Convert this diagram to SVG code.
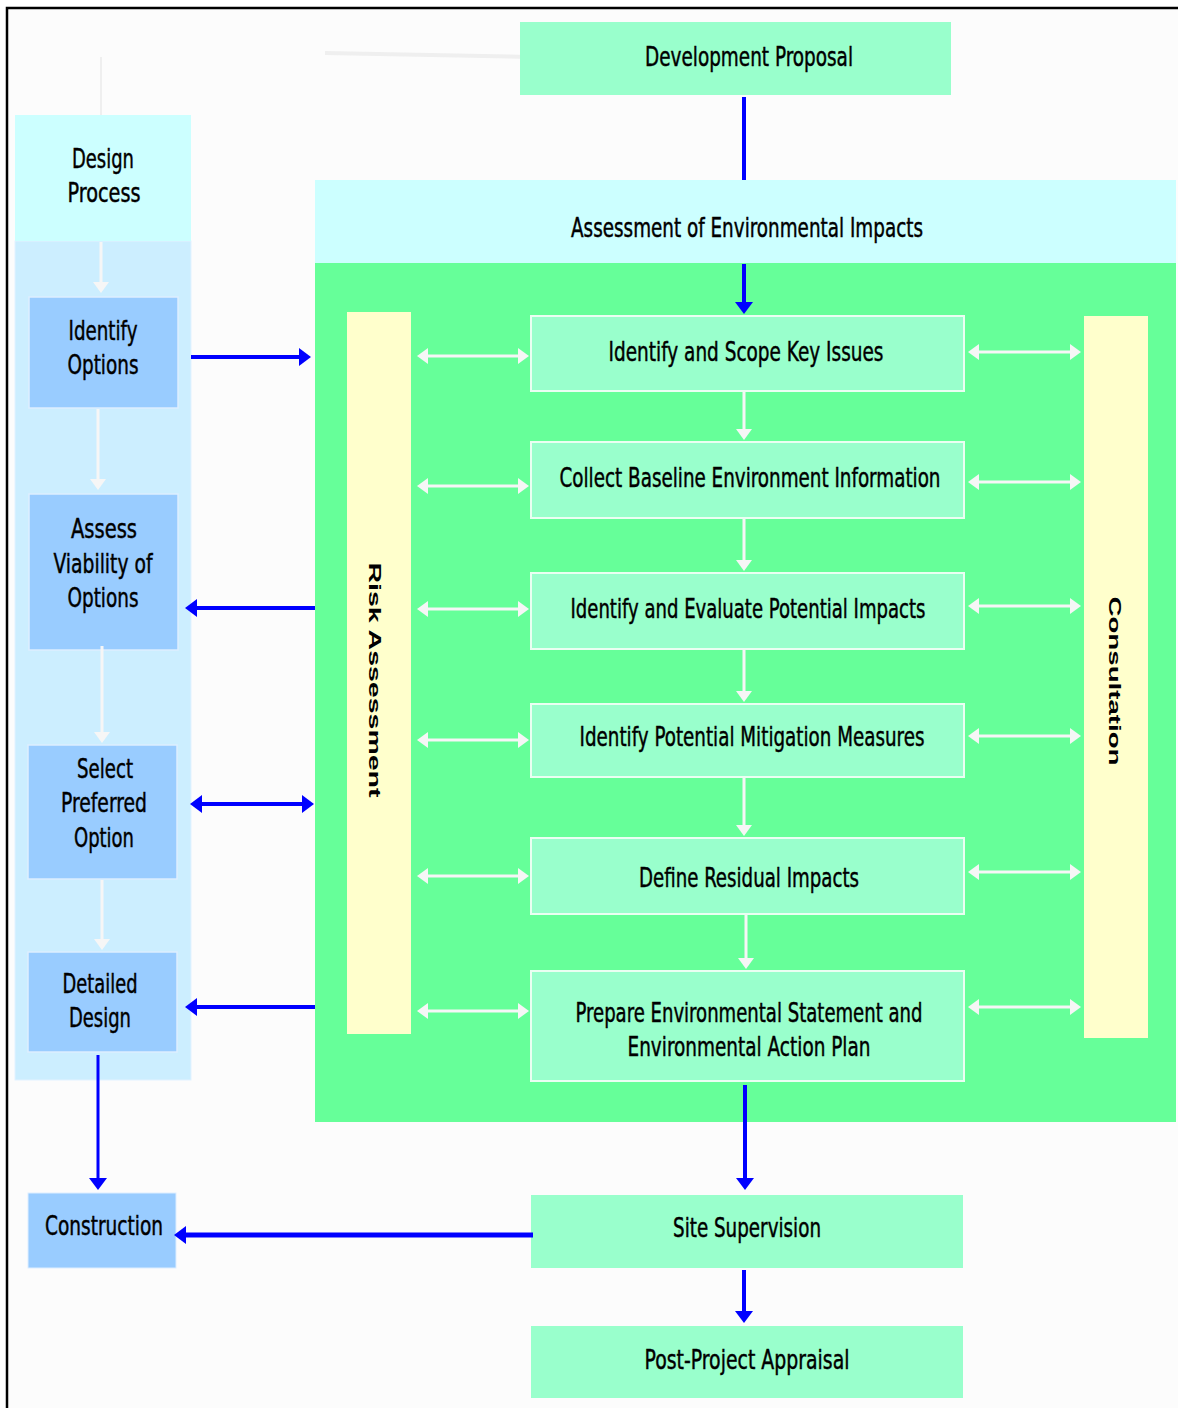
<svg xmlns="http://www.w3.org/2000/svg" width="1178" height="1408" viewBox="0 0 1178 1408">
<style>
.t{font-family:"Liberation Sans Narrow","DejaVu Sans Condensed","Arial Narrow",sans-serif;font-size:27px;fill:#000;text-anchor:middle;stroke:#000;stroke-width:0.45px}
.v{font-family:"Liberation Sans","Arial",sans-serif;font-weight:bold;font-size:17px;fill:#000;text-anchor:middle}
.g{fill:#99ffcc}
.gb{fill:#99ffcc;stroke:#eafff2;stroke-width:2}
.b{fill:#99ccff;stroke:#ddeeff;stroke-width:1.5}
.y{fill:#ffffcc}
.bl{stroke:#0000ff;stroke-width:4;fill:none}
.wl{stroke:#f6f6f6;stroke-width:3;fill:none}
</style>
<defs>
<marker id="bh" viewBox="0 0 12 18" refX="0" refY="9" markerWidth="12" markerHeight="18" orient="auto-start-reverse" markerUnits="userSpaceOnUse"><path d="M0,0 L12,9 L0,18 z" fill="#0000ff"/></marker>
<marker id="wh" viewBox="0 0 11 16" refX="0" refY="8" markerWidth="11" markerHeight="16" orient="auto-start-reverse" markerUnits="userSpaceOnUse"><path d="M0,0 L11,8 L0,16 z" fill="#f6f6f6"/></marker>
</defs>
<rect x="0" y="0" width="1178" height="1408" fill="#ffffff"/>
<rect x="7" y="8" width="1171" height="1400" fill="#fcfcfc"/>
<path d="M7,1408 V8 H1178" fill="none" stroke="#000" stroke-width="2.5"/>
<path d="M325,53 L532,57" stroke="#efefef" stroke-width="4" fill="none"/>
<path d="M101,57 V115" stroke="#efefef" stroke-width="2" fill="none"/>

<g id="design-column">
<rect x="15" y="241" width="176" height="839" fill="#cceeff" stroke="#e2f2ff" stroke-width="1"/>
</g>
<g id="design-process">
<rect x="15" y="115" width="176" height="126" fill="#ccffff"/>
<text class="t" x="103" y="168" textLength="62" lengthAdjust="spacingAndGlyphs">Design</text>
<text class="t" x="104" y="202" textLength="73" lengthAdjust="spacingAndGlyphs">Process</text>
</g>
<g id="assessment">
<rect x="315" y="180" width="861" height="83" fill="#ccffff"/>
<rect x="315" y="263" width="861" height="859" fill="#66ff99"/>
<text class="t" x="747" y="237" textLength="352" lengthAdjust="spacingAndGlyphs">Assessment of Environmental Impacts</text>
</g>
<g id="development-proposal">
<rect class="g" x="520" y="22" width="431" height="73"/>
<text class="t" x="749" y="66" textLength="208" lengthAdjust="spacingAndGlyphs">Development Proposal</text>
</g>
<g id="identify-options">
<rect class="b" x="29" y="297" width="149" height="111"/>
<text class="t" x="103" y="340" textLength="69" lengthAdjust="spacingAndGlyphs">Identify</text>
<text class="t" x="103" y="374" textLength="71" lengthAdjust="spacingAndGlyphs">Options</text>
</g>
<g id="assess-viability">
<rect class="b" x="29" y="494" width="149" height="156"/>
<text class="t" x="104" y="538" textLength="66" lengthAdjust="spacingAndGlyphs">Assess</text>
<text class="t" x="103" y="573" textLength="99" lengthAdjust="spacingAndGlyphs">Viability of</text>
<text class="t" x="103" y="607" textLength="71" lengthAdjust="spacingAndGlyphs">Options</text>
</g>
<g id="select-preferred">
<rect class="b" x="28" y="745" width="149" height="134"/>
<text class="t" x="105" y="778" textLength="56" lengthAdjust="spacingAndGlyphs">Select</text>
<text class="t" x="104" y="812" textLength="86" lengthAdjust="spacingAndGlyphs">Preferred</text>
<text class="t" x="104" y="847" textLength="60" lengthAdjust="spacingAndGlyphs">Option</text>
</g>
<g id="detailed-design">
<rect class="b" x="28" y="952" width="149" height="100"/>
<text class="t" x="100" y="993" textLength="75" lengthAdjust="spacingAndGlyphs">Detailed</text>
<text class="t" x="100" y="1027" textLength="62" lengthAdjust="spacingAndGlyphs">Design</text>
</g>
<g id="construction">
<rect x="28" y="1193" width="148" height="75" fill="#99ccff" stroke="#ddeeff" stroke-width="1"/>
<text class="t" x="104" y="1235" textLength="118" lengthAdjust="spacingAndGlyphs">Construction</text>
</g>
<g id="risk-assessment">
<rect class="y" x="347" y="312" width="64" height="722"/>
<text class="v" transform="translate(369,680) rotate(90)" textLength="235" lengthAdjust="spacingAndGlyphs">Risk Assessment</text>
</g>
<g id="consultation">
<rect class="y" x="1084" y="316" width="64" height="722"/>
<text class="v" transform="translate(1109,681) rotate(90)" textLength="169" lengthAdjust="spacingAndGlyphs">Consultation</text>
</g>
<g id="scope-issues">
<rect class="gb" x="531" y="316" width="433" height="75"/>
<text class="t" x="746" y="361" textLength="275" lengthAdjust="spacingAndGlyphs">Identify and Scope Key Issues</text>
</g>
<g id="baseline">
<rect class="gb" x="531" y="442" width="433" height="76"/>
<text class="t" x="750" y="487" textLength="381" lengthAdjust="spacingAndGlyphs">Collect Baseline Environment Information</text>
</g>
<g id="evaluate-impacts">
<rect class="gb" x="531" y="573" width="433" height="76"/>
<text class="t" x="748" y="618" textLength="355" lengthAdjust="spacingAndGlyphs">Identify and Evaluate Potential Impacts</text>
</g>
<g id="mitigation">
<rect class="gb" x="531" y="704" width="433" height="73"/>
<text class="t" x="752" y="746" textLength="345" lengthAdjust="spacingAndGlyphs">Identify Potential Mitigation Measures</text>
</g>
<g id="residual">
<rect class="gb" x="531" y="838" width="433" height="76"/>
<text class="t" x="749" y="887" textLength="220" lengthAdjust="spacingAndGlyphs">Define Residual Impacts</text>
</g>
<g id="statement">
<rect class="gb" x="531" y="971" width="433" height="110"/>
<text class="t" x="749" y="1022" textLength="347" lengthAdjust="spacingAndGlyphs">Prepare Environmental Statement and</text>
<text class="t" x="749" y="1056" textLength="243" lengthAdjust="spacingAndGlyphs">Environmental Action Plan</text>
</g>
<g id="site-supervision">
<rect class="g" x="531" y="1195" width="432" height="73"/>
<text class="t" x="747" y="1237" textLength="148" lengthAdjust="spacingAndGlyphs">Site Supervision</text>
</g>
<g id="post-project">
<rect class="g" x="531" y="1326" width="432" height="72"/>
<text class="t" x="747" y="1369" textLength="205" lengthAdjust="spacingAndGlyphs">Post-Project Appraisal</text>
</g>

<g id="connectors">
<path class="bl" d="M744,97 V180"/>
<path class="bl" d="M744,264 V302" marker-end="url(#bh)"/>
<path class="bl" d="M191,357 H299" marker-end="url(#bh)"/>
<path class="bl" d="M315,608 H197" marker-end="url(#bh)"/>
<path class="bl" d="M202,804 H302" marker-start="url(#bh)" marker-end="url(#bh)"/>
<path class="bl" d="M315,1007 H197" marker-end="url(#bh)"/>
<path class="bl" style="stroke-width:3" d="M98,1055 V1178" marker-end="url(#bh)"/>
<path class="bl" d="M745,1085 V1178" marker-end="url(#bh)"/>
<path class="bl" style="stroke-width:5" d="M533,1235 H186" marker-end="url(#bh)"/>
<path class="bl" d="M744,1270 V1311" marker-end="url(#bh)"/>

<path class="wl" d="M428,356 H518" marker-start="url(#wh)" marker-end="url(#wh)"/>
<path class="wl" d="M428,486 H518" marker-start="url(#wh)" marker-end="url(#wh)"/>
<path class="wl" d="M428,609 H518" marker-start="url(#wh)" marker-end="url(#wh)"/>
<path class="wl" d="M428,740 H518" marker-start="url(#wh)" marker-end="url(#wh)"/>
<path class="wl" d="M428,876 H518" marker-start="url(#wh)" marker-end="url(#wh)"/>
<path class="wl" d="M428,1011 H518" marker-start="url(#wh)" marker-end="url(#wh)"/>

<path class="wl" d="M979,352 H1070" marker-start="url(#wh)" marker-end="url(#wh)"/>
<path class="wl" d="M979,482 H1070" marker-start="url(#wh)" marker-end="url(#wh)"/>
<path class="wl" d="M979,606 H1070" marker-start="url(#wh)" marker-end="url(#wh)"/>
<path class="wl" d="M979,736 H1070" marker-start="url(#wh)" marker-end="url(#wh)"/>
<path class="wl" d="M979,872 H1070" marker-start="url(#wh)" marker-end="url(#wh)"/>
<path class="wl" d="M979,1007 H1070" marker-start="url(#wh)" marker-end="url(#wh)"/>

<path class="wl" d="M744,392 V429" marker-end="url(#wh)"/>
<path class="wl" d="M744,519 V560" marker-end="url(#wh)"/>
<path class="wl" d="M744,650 V691" marker-end="url(#wh)"/>
<path class="wl" d="M744,778 V825" marker-end="url(#wh)"/>
<path class="wl" d="M746,915 V958" marker-end="url(#wh)"/>

<path class="wl" d="M101,242 V282" marker-end="url(#wh)"/>
<path class="wl" d="M98,409 V479" marker-end="url(#wh)"/>
<path class="wl" d="M102,646 V732" marker-end="url(#wh)"/>
<path class="wl" d="M102,880 V939" marker-end="url(#wh)"/>
</g>
</svg>
